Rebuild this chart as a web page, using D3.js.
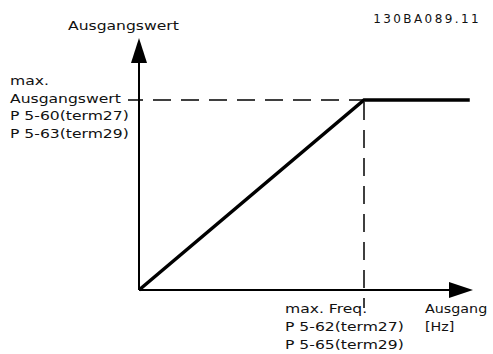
<!DOCTYPE html>
<html>
<head>
<meta charset="utf-8">
<script src="https://cdn.jsdelivr.net/npm/d3@7"></script>
<style>
  body { margin: 0; background: #fff; }
  text { font-family: "DejaVu Sans", Verdana, sans-serif; fill: #111; }
</style>
</head>
<body>
<svg id="chart"></svg>
<script>
// output curve (normalised): ramp up to max freq, then flat
var freqValues = [0, 1, 1.47];
var outValues = [0, 1, 1];

var yAxisTitle = "Ausgangswert";
var yMaxLabel = ["max.", "Ausgangswert", "P 5-60(term27)", "P 5-63(term29)"];
var xMaxLabel = ["max. Freq.", "P 5-62(term27)", "P 5-65(term29)"];
var xAxisTitle = ["Ausgang", "[Hz]"];
var docId = "130BA089.11";

var width = 493, height = 354;

var svg = d3.select("#chart")
            .attr("width", width)
            .attr("height", height);

// scales
var xScale = d3.scaleLinear().domain([0, 1]).range([139, 364]);
var yScale = d3.scaleLinear().domain([0, 1]).range([290, 100]);

var x0 = xScale(0), y0 = yScale(0);

// axes with arrow heads
svg.append("line")
   .attr("x1", x0).attr("y1", y0)
   .attr("x2", x0).attr("y2", 60)
   .attr("stroke", "#000").attr("stroke-width", 2);
svg.append("path")
   .attr("d", "M" + (x0 - 8) + ",63 L" + x0 + ",38 L" + (x0 + 8) + ",63 Z")
   .attr("fill", "#000");

svg.append("line")
   .attr("x1", x0).attr("y1", y0)
   .attr("x2", 452).attr("y2", y0)
   .attr("stroke", "#000").attr("stroke-width", 2);
svg.append("path")
   .attr("d", "M449," + (y0 - 8) + " L473," + y0 + " L449," + (y0 + 8) + " Z")
   .attr("fill", "#000");

// dashed guides
svg.append("line")
   .attr("x1", 128).attr("y1", yScale(1))
   .attr("x2", xScale(1)).attr("y2", yScale(1))
   .attr("stroke", "#000").attr("stroke-width", 1.5)
   .attr("stroke-dasharray", "18,10")
   .attr("stroke-dashoffset", 3);
svg.append("line")
   .attr("x1", xScale(1)).attr("y1", yScale(1))
   .attr("x2", xScale(1)).attr("y2", 308)
   .attr("stroke", "#000").attr("stroke-width", 1.5)
   .attr("stroke-dasharray", "18,10")
   .attr("stroke-dashoffset", 26);

// output curve
var line = d3.line()
             .x(function(d){ return xScale(d[0]); })
             .y(function(d){ return yScale(d[1]); });
svg.append("path")
   .datum(d3.zip(freqValues, outValues))
   .attr("d", line)
   .attr("fill", "none")
   .attr("stroke", "#000")
   .attr("stroke-width", 3.5);

// texts (the original lettering is a bit wide, so stretch horizontally)
var fs = 13;
var addText = function(sel, x, y, t, sx){
  return sel.append("text")
            .attr("transform", "translate(" + x + "," + y + ") scale(" + sx + ",1)")
            .attr("font-size", fs)
            .text(t);
};

addText(svg, 68, 30, yAxisTitle, 1.2);

svg.append("text").attr("x", 481).attr("y", 23)
   .attr("text-anchor", "end")
   .attr("font-family", "'Liberation Sans', Arial, sans-serif")
   .attr("letter-spacing", 2.4)
   .attr("font-size", 12).text(docId);

yMaxLabel.forEach(function(d, i){ addText(svg, 10, 85 + i * 17.7, d, 1.2); });
xMaxLabel.forEach(function(d, i){ addText(svg, 285, 313 + i * 18, d, 1.2); });
// keep the right-hand title inside the page
xAxisTitle.forEach(function(d, i){ addText(svg, 425, 313 + i * 18, d, 1.1); });
</script>
</body>
</html>
